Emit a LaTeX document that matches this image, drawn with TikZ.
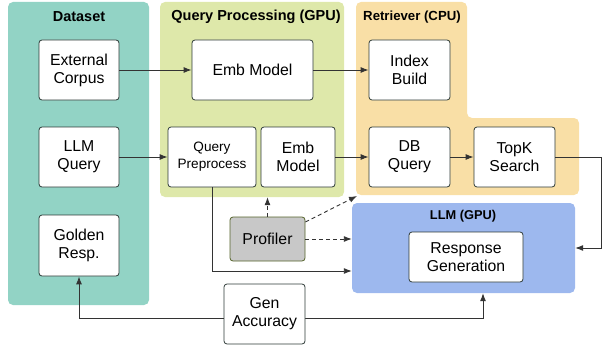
\documentclass[tikz,border=0pt]{standalone}
\usepackage{fontspec}
\setmainfont{Liberation Sans}
\usetikzlibrary{arrows.meta,calc}
\definecolor{teal}{HTML}{92D3C5}
\definecolor{lgreen}{HTML}{DEE8AA}
\definecolor{lorange}{HTML}{F9DFA6}
\definecolor{lblue}{HTML}{9DB8EE}
\definecolor{boxline}{HTML}{2E3B38}
\definecolor{profgray}{HTML}{C8C8C8}
\definecolor{profline}{HTML}{55632A}
\definecolor{wire}{HTML}{333333}
\begin{document}
\begin{tikzpicture}[x=1pt,y=-1pt,
  panel/.style={draw=none,rounded corners=5pt,inner sep=0pt,anchor=center},
  blk/.style={draw=boxline,line width=0.8pt,fill=white,rounded corners=3pt,inner sep=0pt,align=center,
     font=\fontsize{15.8}{18}\selectfont},
  ttl/.style={font=\bfseries\fontsize{14.5}{16}\selectfont},
  arr/.style={draw=wire,line width=0.9pt,-{Latex[length=8pt,width=6pt]}},
  darr/.style={arr,dashed,dash pattern=on 4pt off 3pt}]
\useasboundingbox (0,0) rectangle (602,345);
% panels
\node[panel,fill=teal,minimum width=141pt,minimum height=303pt] (dspanel) at (78.5,153.5) {};
\node[panel,fill=lgreen,minimum width=184pt,minimum height=195pt] (qppanel) at (252,99.5) {};
\fill[lorange,rounded corners=5pt] (356,2) -- (467,2) -- (467,118) -- (579,118) -- (579,195) -- (356,195) -- cycle;
\coordinate (retcorner) at (357,196);
\node[panel,fill=lblue,minimum width=223pt,minimum height=90pt] (llmpanel) at (463.5,248) {};
% titles
\node[ttl] (tds) at (79,17) {Dataset};
\node[ttl] (tqp) at (256,17) {Query Processing (GPU)};
\node[ttl,font=\bfseries\fontsize{13.2}{15}\selectfont] (tret) at (412,17) {Retriever (CPU)};
\node[ttl,font=\bfseries\fontsize{12.8}{15}\selectfont] (tllm) at (463,216) {LLM (GPU)};
% boxes
\node[blk,minimum width=80pt,minimum height=60pt] (ext) at (79,70) {External\\Corpus};
\node[blk,minimum width=80pt,minimum height=60pt] (llmq) at (79,157) {LLM\\Query};
\node[blk,minimum width=80pt,minimum height=61pt] (golden) at (79,245.5) {Golden\\Resp.};
\node[blk,minimum width=121pt,minimum height=60pt] (emb1) at (252.5,70) {Emb Model};
\node[blk,minimum width=88pt,minimum height=60pt,font=\fontsize{13.6}{17}\selectfont] (qpre) at (212,157) {Query\\Preprocess};
\node[blk,minimum width=74pt,minimum height=60pt] (emb2) at (298,157) {Emb\\Model};
\node[blk,minimum width=81pt,minimum height=60pt] (idx) at (409.5,70) {Index\\Build};
\node[blk,minimum width=81pt,minimum height=60pt] (dbq) at (409.5,157) {DB\\Query};
\node[blk,minimum width=81pt,minimum height=60pt] (topk) at (514.5,157) {TopK\\Search};
\node[blk,minimum width=114pt,minimum height=50pt] (resp) at (466,257) {Response\\Generation};
\node[blk,fill=profgray,draw=profline,minimum width=75pt,minimum height=44pt] (prof) at (267.5,239) {Profiler};
% coordinates
\coordinate (rt) at (601,157);
\coordinate (lvl) at (0,271);
\coordinate (lvl2) at (0,318);
\coordinate (xa) at (483,0);
% connectors
\draw[arr] (ext) -- (emb1);
\draw[arr] (emb1) -- (idx);
\draw[arr] (llmq) -- (qpre);
\draw[arr] (emb2) -- (dbq);
\draw[arr] (dbq) -- (topk);
\draw[arr] (topk.east) -- (rt) |- (llmpanel.east);
\draw[arr] (qpre.south) |- (llmpanel.west |- lvl);
\draw[darr] (prof.north) -- (prof.north |- qppanel.south);
\draw[darr] ([yshift=17pt]prof.east) -- (retcorner);
\draw[darr] (prof.east) -- (prof.east -| llmpanel.west);
\draw[arr] (264,318) -| (golden.south);
\draw[arr] (264,318) -| (xa |- llmpanel.south);
\node[blk,minimum width=81pt,minimum height=60pt] (gen) at (264.5,314) {Gen\\Accuracy};
\end{tikzpicture}
\end{document}
